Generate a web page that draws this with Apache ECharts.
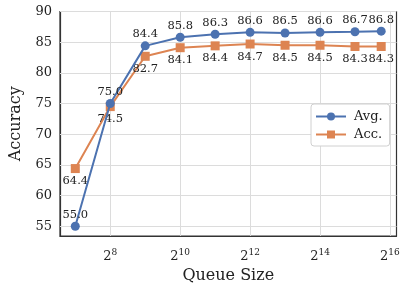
<!DOCTYPE html>
<html><head><meta charset="utf-8">
<script src="https://cdn.jsdelivr.net/npm/echarts@6/dist/echarts.min.js"></script>
<style>html,body{margin:0;padding:0;background:#fff}#c{width:407px;height:289px}</style>
</head><body><div id="c"></div>
<script>
const queueLog2 = [7, 8, 9, 10, 11, 12, 13, 14, 15, 15.75];
const avgValues = [55.0, 75.0, 84.4, 85.8, 86.3, 86.6, 86.5, 86.6, 86.7, 86.8];
const accValues = [64.4, 74.5, 82.7, 84.1, 84.4, 84.7, 84.5, 84.5, 84.3, 84.3];
const xTickExps = [8, 10, 12, 14, 16];
const yTicks = [55, 60, 65, 70, 75, 80, 85, 90];

const FONT = 'DejaVu Serif';
const GRID = '#dcdcdc';
const chart = echarts.init(document.getElementById('c'), null, {renderer: 'canvas'});
const pair = (xs, ys) => xs.map((x, i) => [x, ys[i]]);
chart.setOption({
  animation: false,
  backgroundColor: '#fff',
  grid: {left: 52, right: 10.5, top: 11.5, bottom: 48.5, show: true, borderColor: '#333', borderWidth: 1.2, containLabel: false},
  xAxis: {
    type: 'value', min: 6.5625, max: 16.1875,
    name: 'Queue Size', nameLocation: 'middle', nameGap: 32,
    nameTextStyle: {fontFamily: FONT, fontSize: 16, color: '#222'},
    axisLine: {show: true, lineStyle: {color: '#333', width: 1.2}},
    axisTick: {show: false, customValues: xTickExps},
    axisLabel: {customValues: xTickExps, margin: 12,
      formatter: v => '{b|2}{s|' + v + '}',
      rich: {b: {fontFamily: FONT, fontSize: 13, color: '#222'}, s: {fontFamily: FONT, fontSize: 9, color: '#222', padding: [0, 0, 8, 0]}}},
    splitLine: {show: false}
  },
  yAxis: {
    type: 'value', min: 53.41, max: 90,
    name: 'Accuracy', nameLocation: 'middle', nameGap: 36, nameRotate: 90,
    nameTextStyle: {fontFamily: FONT, fontSize: 16, color: '#222'},
    axisLine: {show: true, lineStyle: {color: '#333', width: 1.2}},
    axisTick: {show: false, customValues: yTicks},
    axisLabel: {customValues: yTicks, margin: 8, fontFamily: FONT, fontSize: 13, color: '#222'},
    splitLine: {show: false}
  },
  legend: {
    orient: 'vertical', left: 311, top: 104, itemGap: 5, z: 10,
    itemWidth: 30, itemHeight: 10,
    padding: [6, 7, 5, 4],
    borderColor: '#d0d0d0', borderWidth: 1, borderRadius: 3, backgroundColor: '#fff',
    textStyle: {fontFamily: FONT, fontSize: 13, color: '#222', padding: [0, 0, 0, 3]},
    data: ['Avg.', 'Acc.']
  },
  series: [
    {name: 'grid', type: 'line', data: [], z: 1, silent: true,
     markLine: {silent: true, z: 1, symbol: 'none', label: {show: false}, animation: false,
       lineStyle: {color: GRID, width: 1, type: 'solid'},
       data: xTickExps.map(v => ({xAxis: v})).concat(yTicks.map(v => ({yAxis: v})))}},
    {name: 'Avg.', type: 'line', data: pair(queueLog2, avgValues), z: 3,
     symbol: 'circle', symbolSize: 9,
     lineStyle: {color: '#4C72B0', width: 2}, itemStyle: {color: '#4C72B0'},
     label: {show: true, position: 'top', distance: 1, fontFamily: FONT, fontSize: 11.5, color: '#222', formatter: p => p.value[1].toFixed(1)}},
    {name: 'Acc.', type: 'line', data: pair(queueLog2, accValues), z: 2,
     symbol: 'rect', symbolSize: 9,
     lineStyle: {color: '#DD8452', width: 2}, itemStyle: {color: '#DD8452'},
     label: {show: true, position: 'bottom', distance: 2, fontFamily: FONT, fontSize: 11.5, color: '#222', formatter: p => p.value[1].toFixed(1)}}
  ]
});
</script></body></html>
